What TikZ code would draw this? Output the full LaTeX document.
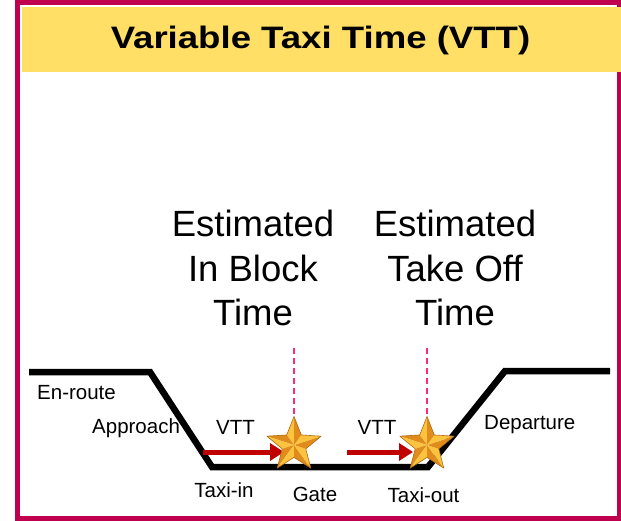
\documentclass[tikz,border=0pt]{standalone}
\usepackage{fontspec}
\setmainfont{Liberation Sans}
\usetikzlibrary{arrows.meta,shapes.geometric}

\definecolor{framered}{HTML}{C0004E}
\definecolor{bandyellow}{HTML}{FFDF66}
\definecolor{arrowred}{HTML}{C00000}
\definecolor{guidepink}{HTML}{FF2A7F}
\definecolor{goldlight}{HTML}{FBC33E}
\definecolor{golddark}{HTML}{E08C1C}
\definecolor{goldedge}{HTML}{B06A10}

\tikzset{
  phase/.style={font=\fontsize{20.5}{24}\selectfont, inner sep=0pt, anchor=base},
  estline/.style={font=\fontsize{36.5}{44}\selectfont, inner sep=0pt, anchor=base},
  track/.style={line width=6.5pt, line join=miter},
  vtt/.style={arrowred, line width=5pt, -{Triangle[width=17pt,length=14pt]}},
  guide/.style={guidepink, line width=1.5pt, dash pattern=on 6pt off 4pt},
  milestone/.style={star, star points=5, star point ratio=2.3,
    minimum size=56pt, inner sep=0pt},
}

\begin{document}
\begin{tikzpicture}[x=1pt,y=-1pt]
\useasboundingbox (0,0) rectangle (621,521);
\fill[white] (0,0) rectangle (621,521);

% frame and title band
\draw[framered, line width=4.5pt] (17.5,2.5) rectangle (619,518.5);
\fill[bandyellow] (22,7) rectangle (621,72);
\node[font=\bfseries\fontsize{31}{36}\selectfont, inner sep=0pt, anchor=base]
  (title) at (320.5,49) {\scalebox{1.18}[1]{Variable Taxi Time (VTT)}};

% milestone captions
\node[estline] (eibt1) at (253,237) {Estimated};
\node[estline] (eibt2) at (253,282) {In Block};
\node[estline] (eibt3) at (253,325) {Time};
\node[estline] (etot1) at (455,237) {Estimated};
\node[estline] (etot2) at (455,282) {Take Off};
\node[estline] (etot3) at (455,325) {Time};

% flight profile
\coordinate (t1) at (29,372);
\coordinate (t2) at (150,372);
\coordinate (t3) at (212,467);
\coordinate (t4) at (428,467);
\coordinate (t5) at (505,371);
\coordinate (t6) at (610,371);
\draw[track] (t1) -- (t2) -- (t3) -- (t4) -- (t5) -- (t6);

% phase labels
\node[phase, anchor=base west] (enroute) at (37,399) {En-route};
\node[phase, anchor=base west] (approach) at (92,433) {Approach};
\node[phase] (vtt1) at (235.5,434) {VTT};
\node[phase] (taxiin) at (224,497) {Taxi-in};
\node[phase] (gate) at (315,501) {Gate};
\node[phase] (vtt2) at (377,434) {VTT};
\node[phase] (taxiout) at (423.5,502) {Taxi-out};
\node[phase, anchor=base west] (departure) at (484,429) {Departure};

% milestone stars
\node[milestone] (s1) at (294,445) {};
\node[milestone] (s2) at (427,445) {};

% dashed guides down to the stars
\coordinate (g1) at (294,348);
\coordinate (g2) at (427,348);
\draw[guide] (g1) -- (s1.outer point 1);
\draw[guide] (g2) -- (s2.outer point 1);

% VTT arrows
\coordinate (a1) at (203,452);
\coordinate (a2) at (347,452);
\draw[vtt, shorten >=10pt] (a1) -- (a1 -| s1.center);
\draw[vtt, shorten >=14pt] (a2) -- (a2 -| s2.center);

% bevelled gold stars
\foreach \s in {s1,s2} {
  \foreach \i [evaluate=\i as \j using {int(mod(\i,5)+1)}] in {1,...,5} {
    \fill[goldlight] (\s.center) -- (\s.outer point \i) -- (\s.inner point \i) -- cycle;
    \fill[golddark] (\s.center) -- (\s.inner point \i) -- (\s.outer point \j) -- cycle;
  }
  \draw[goldedge, line width=0.6pt, line join=round]
    (\s.outer point 1) -- (\s.inner point 1) -- (\s.outer point 2) -- (\s.inner point 2)
    -- (\s.outer point 3) -- (\s.inner point 3) -- (\s.outer point 4) -- (\s.inner point 4)
    -- (\s.outer point 5) -- (\s.inner point 5) -- cycle;
}
\end{tikzpicture}
\end{document}
